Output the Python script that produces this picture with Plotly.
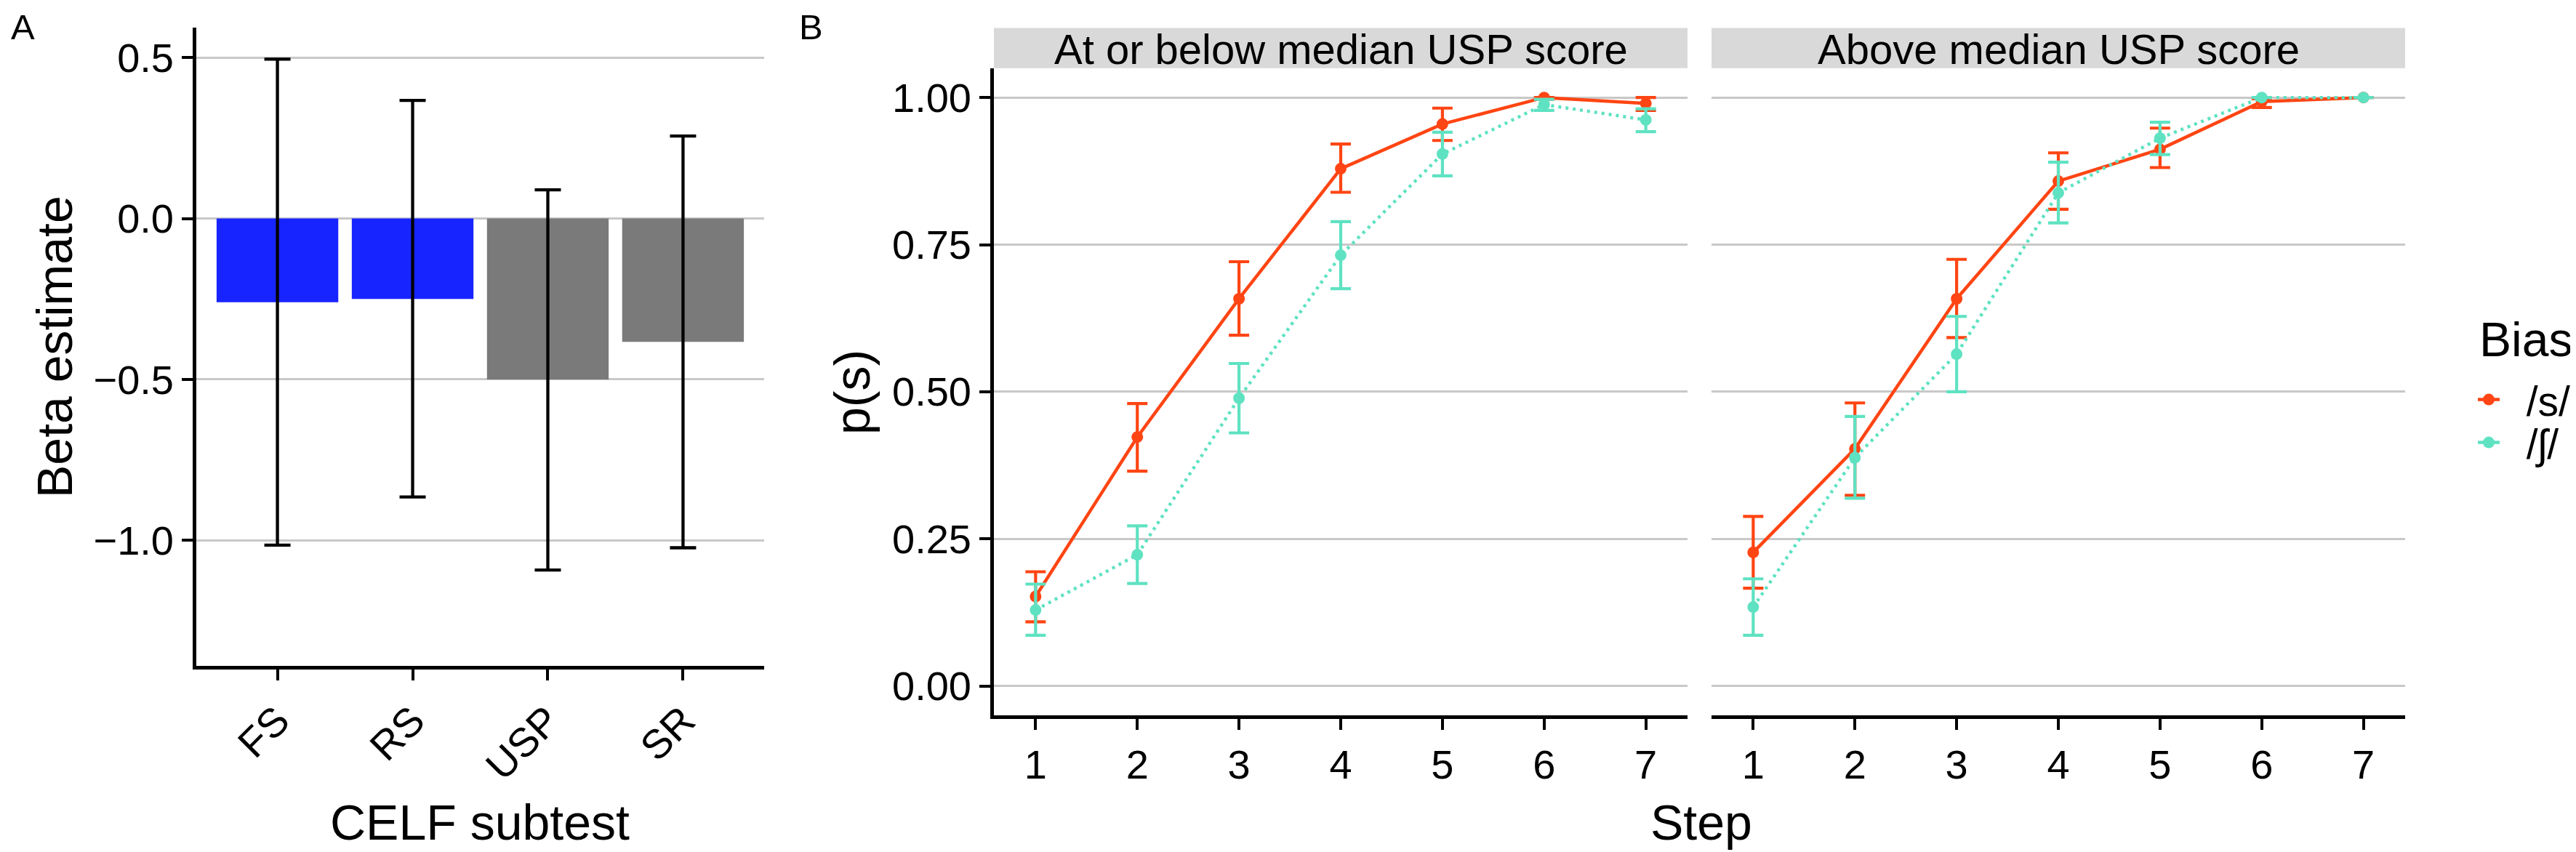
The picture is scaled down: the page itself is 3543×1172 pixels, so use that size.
import plotly.graph_objects as go

W, H = 3543, 1172

# ---------------- Panel A data ----------------
subtests = ["FS", "RS", "USP", "SR"]
beta = [-0.26, -0.25, -0.50, -0.383]
beta_lo = [-1.015, -0.865, -1.092, -1.023]
beta_hi = [0.495, 0.367, 0.089, 0.256]
bar_colors = ["#1824FF", "#1824FF", "#7A7A7A", "#7A7A7A"]
a_ticks = [-1.0, -0.5, 0.0, 0.5]

# ---------------- Panel B data ----------------
steps = [1, 2, 3, 4, 5, 6, 7]
panel_titles = ["At or below median USP score", "Above median USP score"]
bias_labels = ["/s/", "/ʃ/"]
b_ticks = [0.0, 0.25, 0.50, 0.75, 1.00]

low_s = [0.152, 0.423, 0.658, 0.879, 0.955, 1.000, 0.990]
low_s_lo = [0.109, 0.365, 0.596, 0.839, 0.927, 0.997, 0.978]
low_s_hi = [0.194, 0.480, 0.721, 0.921, 0.982, 1.000, 1.000]

low_sh = [0.129, 0.223, 0.489, 0.732, 0.904, 0.988, 0.962]
low_sh_lo = [0.086, 0.174, 0.430, 0.675, 0.867, 0.978, 0.942]
low_sh_hi = [0.173, 0.272, 0.548, 0.789, 0.941, 0.997, 0.981]

high_s = [0.227, 0.403, 0.658, 0.858, 0.912, 0.993, 1.000]
high_s_lo = [0.166, 0.324, 0.592, 0.810, 0.881, 0.983, 1.000]
high_s_hi = [0.288, 0.481, 0.725, 0.906, 0.948, 0.998, 1.000]

high_sh = [0.134, 0.388, 0.564, 0.838, 0.931, 1.000, 1.000]
high_sh_lo = [0.086, 0.319, 0.500, 0.787, 0.903, 1.000, 1.000]
high_sh_hi = [0.182, 0.458, 0.628, 0.890, 0.958, 1.000, 1.000]

RED = "#FF4513"
TEAL = "#5FE2C2"
GRID = "#C8C8C8"
FONT = "Liberation Sans, Arial, Helvetica, sans-serif"


def px(x):
    return x / W


def py(y):
    return 1 - y / H


def up(v, hi):
    return [h - m for m, h in zip(v, hi)]


def down(v, lo):
    return [m - l for m, l in zip(v, lo)]


fig = go.Figure()

# Panel A bars
fig.add_trace(go.Bar(
    x=subtests, y=beta, width=0.9,
    marker=dict(color=bar_colors, line=dict(width=0)),
    error_y=dict(type="data", array=up(beta, beta_hi), arrayminus=down(beta, beta_lo),
                 color="black", thickness=4.3, width=18),
    xaxis="x", yaxis="y", showlegend=False,
))

series = [
    ("x2", "y2", low_s, low_s_lo, low_s_hi, RED, "solid"),
    ("x2", "y2", low_sh, low_sh_lo, low_sh_hi, TEAL, "4px,6px"),
    ("x3", "y3", high_s, high_s_lo, high_s_hi, RED, "solid"),
    ("x3", "y3", high_sh, high_sh_lo, high_sh_hi, TEAL, "4px,6px"),
]
for xa, ya, m, lo, hi, col, dash in series:
    fig.add_trace(go.Scatter(
        x=steps, y=m, mode="lines+markers",
        line=dict(color=col, width=4.5, dash=dash),
        marker=dict(color=col, size=16),
        error_y=dict(type="data", array=up(m, hi), arrayminus=down(m, lo),
                     color=col, thickness=4.2, width=14),
        xaxis=xa, yaxis=ya, showlegend=False,
    ))

# legend entries (one legend box per key, to match the compact key spacing)
for lab, col, lg in zip(bias_labels, [RED, TEAL], ["legend", "legend2"]):
    fig.add_trace(go.Scatter(
        x=[None], y=[None], mode="lines+markers", name="\u00a0\u00a0" + lab,
        line=dict(color=col, width=4.5), marker=dict(color=col, size=16),
        xaxis="x2", yaxis="y2", showlegend=True, legend=lg,
    ))

axis_common = dict(
    showline=True, linecolor="black", linewidth=4.6,
    ticks="outside", ticklen=15, tickwidth=4.3, tickcolor="black",
    tickfont=dict(size=56, color="black", family=FONT),
    zeroline=False,
)

legend_common = dict(
    xanchor="left", yanchor="middle",
    font=dict(size=57, family=FONT, color="black"),
    bgcolor="rgba(0,0,0,0)", itemsizing="trace",
)

fig.update_layout(
    width=W, height=H, autosize=False,
    margin=dict(l=0, r=0, t=0, b=0, pad=0),
    paper_bgcolor="white", plot_bgcolor="white",
    font=dict(family=FONT, color="black"),
    bargap=0.1,
    xaxis=dict(domain=[px(262), px(1043)], anchor="y", type="category",
               range=[-0.6, 3.6], tickangle=-45, showgrid=False, **axis_common),
    yaxis=dict(domain=[py(908), py(30)], anchor="x", range=[-1.39, 0.593],
               tickvals=a_ticks, ticktext=[f"{v:.1f}".replace("-", "\u2212") for v in a_ticks],
               showgrid=True, gridcolor=GRID, gridwidth=3, **axis_common),
    xaxis2=dict(domain=[px(1359), px(2313)], anchor="y2", range=[0.59, 7.41],
                tickvals=steps, showgrid=False, **axis_common),
    yaxis2=dict(domain=[py(976), py(85.7)], anchor="x2", range=[-0.05, 1.05],
                tickvals=b_ticks, ticktext=[f"{v:.2f}" for v in b_ticks],
                showgrid=True, gridcolor=GRID, gridwidth=3, **axis_common),
    xaxis3=dict(domain=[px(2346), px(3300)], anchor="y3", range=[0.59, 7.41],
                tickvals=steps, showgrid=False, **axis_common),
    yaxis3=dict(domain=[py(976), py(85.7)], anchor="x3", range=[-0.05, 1.05],
                tickvals=b_ticks, showticklabels=False, ticks="", showline=False,
                showgrid=True, gridcolor=GRID, gridwidth=3, zeroline=False),
    legend=dict(x=px(3395), y=py(542), **legend_common),
    legend2=dict(x=px(3395), y=py(601), **legend_common),
)

# facet strips
for (x0, x1) in [(1359, 2313), (2346, 3300)]:
    fig.add_shape(type="rect", xref="paper", yref="paper",
                  x0=px(x0), x1=px(x1), y0=py(85.7), y1=py(30.6),
                  fillcolor="#D9D9D9", line=dict(width=0), layer="below")

annots = [
    dict(text=panel_titles[0], x=px((1359 + 2313) / 2), y=py(59), size=58, angle=0, xa="center", ya="middle"),
    dict(text=panel_titles[1], x=px((2346 + 3300) / 2), y=py(59), size=58, angle=0, xa="center", ya="middle"),
    dict(text="Beta estimate", x=px(67), y=py(469), size=68, angle=-90, xa="center", ya="middle"),
    dict(text="CELF subtest", x=px(652), y=py(1123), size=68, angle=0, xa="center", ya="middle"),
    dict(text="p(s)", x=px(1164), y=py(532), size=68, angle=-90, xa="center", ya="middle"),
    dict(text="Step", x=px(2332), y=py(1123), size=68, angle=0, xa="center", ya="middle"),
    dict(text="Bias", x=px(3400), y=py(459), size=66, angle=0, xa="left", ya="middle"),
    dict(text="A", x=px(23), y=1.0, size=49, angle=0, xa="center", ya="top"),
    dict(text="B", x=px(1107), y=1.0, size=49, angle=0, xa="center", ya="top"),
]
for a in annots:
    fig.add_annotation(text=a["text"], x=a["x"], y=a["y"], xref="paper", yref="paper",
                       xanchor=a["xa"], yanchor=a["ya"], showarrow=False,
                       textangle=a["angle"],
                       font=dict(size=a["size"], family=FONT, color="black"))

fig.write_html("out.html")
